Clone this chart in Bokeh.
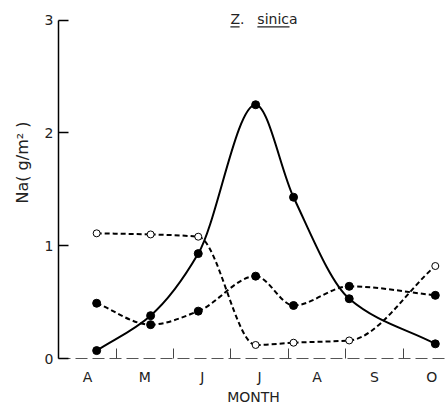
import numpy as np
from bokeh.plotting import figure
from bokeh.models import FixedTicker, Label, BoxAnnotation, Range1d, Title
from bokeh.embed import file_html
from bokeh.resources import INLINE

# ---- data ----
months = ["A", "M", "J", "J", "A", "S", "O"]
month_pos = [0, 1, 2, 3, 4, 5, 6]
sample_x = [0.16, 1.10, 1.93, 2.93, 3.59, 4.56, 6.06]
solid_filled = [0.07, 0.38, 0.93, 2.25, 1.43, 0.53, 0.13]
dashed_filled = [0.49, 0.30, 0.42, 0.73, 0.47, 0.64, 0.56]
dashed_open = [1.11, 1.10, 1.08, 0.12, 0.14, 0.16, 0.82]
boundaries = [0.5, 1.5, 2.5, 3.5, 4.5, 5.5]
y_ticks = [0, 1, 2, 3]

FONT = "DejaVu Sans"

p = figure(width=448, height=407, output_backend="svg", toolbar_location=None,
           x_range=Range1d(-0.505, 6.29), y_range=Range1d(0, 3.13),
           min_border_left=58, min_border_right=0, min_border_top=5, min_border_bottom=49)
p.outline_line_color = None
p.xgrid.grid_line_color = None
p.ygrid.grid_line_color = None
p.background_fill_color = "white"
p.border_fill_color = "white"


def bezier_parts(xs, ys):
    """Monotone (Fritsch-Butland) cubic through the data points, as Bezier segments."""
    n = len(xs)
    h = [xs[i + 1] - xs[i] for i in range(n - 1)]
    d = [(ys[i + 1] - ys[i]) / h[i] for i in range(n - 1)]
    m = [0.0] * n
    m[0] = d[0]
    m[-1] = d[-1]
    for i in range(1, n - 1):
        if d[i - 1] * d[i] <= 0:
            m[i] = 0.0
        else:
            h0, h1 = h[i - 1], h[i]
            m[i] = 3 * (h0 + h1) / ((2 * h1 + h0) / d[i - 1] + (h1 + 2 * h0) / d[i])
    out = dict(x0=[], y0=[], x1=[], y1=[], cx0=[], cy0=[], cx1=[], cy1=[])
    for i in range(n - 1):
        out["x0"].append(xs[i]); out["y0"].append(ys[i])
        out["x1"].append(xs[i + 1]); out["y1"].append(ys[i + 1])
        out["cx0"].append(xs[i] + h[i] / 3); out["cy0"].append(ys[i] + m[i] * h[i] / 3)
        out["cx1"].append(xs[i + 1] - h[i] / 3); out["cy1"].append(ys[i + 1] - m[i + 1] * h[i] / 3)
    return out


p.bezier(**bezier_parts(sample_x, solid_filled), line_color="black", line_width=2)
p.bezier(**bezier_parts(sample_x, dashed_filled), line_color="black", line_width=2, line_dash="5 3")
p.bezier(**bezier_parts(sample_x, dashed_open), line_color="black", line_width=2, line_dash="5 3")

p.scatter(sample_x, solid_filled, size=8, marker="circle", fill_color="black", line_color="black")
p.scatter(sample_x, dashed_filled, size=8, marker="circle", fill_color="black", line_color="black")
p.scatter(sample_x, dashed_open, size=7, marker="circle", fill_color="white", line_color="black", line_width=1)

# x axis
xa = p.xaxis[0]
xa.ticker = FixedTicker(ticks=month_pos, minor_ticks=boundaries)
xa.major_label_overrides = {m: lab for m, lab in zip(month_pos, months)}
xa.major_tick_line_color = None
xa.minor_tick_in = 10
xa.minor_tick_out = 0
xa.minor_tick_line_color = "#444"
xa.axis_line_color = "#555"
xa.axis_line_dash = "12 5"
xa.major_label_standoff = 4
xa.major_label_text_font = FONT
xa.major_label_text_font_size = "14px"
xa.major_label_text_color = "#222"
xa.axis_label = "MONTH"
xa.axis_label_text_font = FONT
xa.axis_label_text_font_size = "14px"
xa.axis_label_text_font_style = "normal"
xa.axis_label_text_color = "#222"
xa.axis_label_standoff = 1

# y axis
ya = p.yaxis[0]
ya.ticker = FixedTicker(ticks=y_ticks, minor_ticks=[])
ya.bounds = (0, 3)
ya.major_tick_in = 10
ya.major_tick_out = 0
ya.major_tick_line_width = 1.5
ya.axis_line_width = 1.5
ya.axis_line_color = "black"
ya.major_label_standoff = 5
ya.major_label_text_font = FONT
ya.major_label_text_font_size = "14px"
ya.major_label_text_color = "#222"

p.add_layout(Title(text="Na( g/m² )", align="left", offset=155, standoff=20,
                   text_font=FONT, text_font_size="16px", text_font_style="normal",
                   text_color="#222"), "left")

# title (underlined species name)
p.add_layout(Label(x=2.49, y=3.014, text="Z.", text_align="left", text_baseline="middle",
                   text_font=FONT, text_font_size="14px", text_color="#222"))
p.add_layout(Label(x=2.96, y=3.014, text="sinica", text_align="left", text_baseline="middle",
                   text_font=FONT, text_font_size="14px", text_color="#222"))
p.add_layout(BoxAnnotation(left=2.49, right=2.65, bottom=2.935, top=2.945,
                           fill_color="#222", fill_alpha=1, line_color=None))
p.add_layout(BoxAnnotation(left=2.96, right=3.52, bottom=2.935, top=2.945,
                           fill_color="#222", fill_alpha=1, line_color=None))

open("out.html", "w").write(file_html(p, INLINE))
